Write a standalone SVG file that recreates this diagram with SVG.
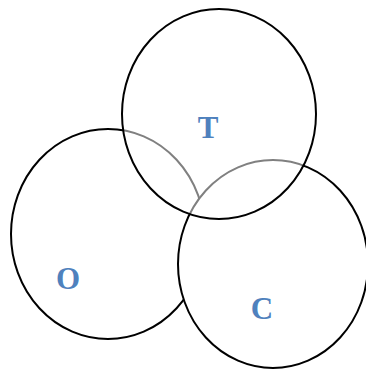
<svg xmlns="http://www.w3.org/2000/svg" width="366" height="370" viewBox="0 0 366 370">
<style>
.set{stroke:#000;stroke-width:2;fill:#fff}
.top{fill-opacity:0.5}
.lbl{font-family:"Liberation Serif",serif;font-weight:bold;font-size:31px;fill:#4f81bd;text-anchor:middle}
</style>
<rect width="366" height="370" fill="#fff"/>
<g id="node-O"><ellipse class="set" cx="108" cy="234" rx="97" ry="105"/></g>
<g id="node-C"><ellipse class="set" cx="273" cy="264" rx="95" ry="104"/></g>
<g id="node-T"><ellipse class="set top" cx="219" cy="114" rx="97" ry="105"/></g>
<g id="labels">
<text class="lbl" x="208" y="138">T</text>
<text class="lbl" x="68" y="289">O</text>
<text class="lbl" x="262" y="319">C</text>
</g>
<g id="connectors"/>
</svg>
